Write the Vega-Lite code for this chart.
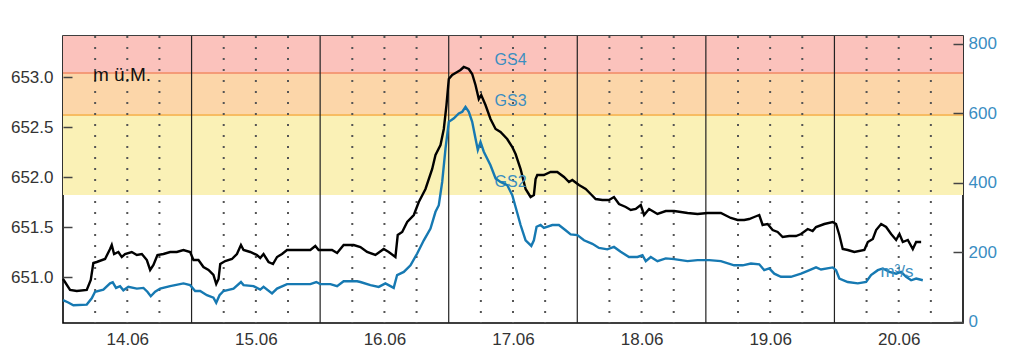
{
  "$schema": "https://vega.github.io/schema/vega-lite/v6.json",
  "width": 900,
  "height": 287,
  "autosize": "none",
  "padding": {"left": 63, "top": 36, "right": 61, "bottom": 35},
  "background": "white",
  "config": {
    "view": {"stroke": "#000", "strokeWidth": 1.6},
    "font": "Liberation Sans"
  },
  "datasets": {
    "bands": [
      {"band": "GS4", "lo": 653.04, "hi": 653.41},
      {"band": "GS3", "lo": 652.62, "hi": 653.04},
      {"band": "GS2", "lo": 651.82, "hi": 652.62}
    ],
    "gridLines": [
      {"t": "2021-06-14T06:00", "kind": "quarter"}, {"t": "2021-06-14T12:00", "kind": "quarter"}, {"t": "2021-06-14T18:00", "kind": "quarter"},
      {"t": "2021-06-15T00:00", "kind": "day"}, {"t": "2021-06-15T06:00", "kind": "quarter"}, {"t": "2021-06-15T12:00", "kind": "quarter"}, {"t": "2021-06-15T18:00", "kind": "quarter"},
      {"t": "2021-06-16T00:00", "kind": "day"}, {"t": "2021-06-16T06:00", "kind": "quarter"}, {"t": "2021-06-16T12:00", "kind": "quarter"}, {"t": "2021-06-16T18:00", "kind": "quarter"},
      {"t": "2021-06-17T00:00", "kind": "day"}, {"t": "2021-06-17T06:00", "kind": "quarter"}, {"t": "2021-06-17T12:00", "kind": "quarter"}, {"t": "2021-06-17T18:00", "kind": "quarter"},
      {"t": "2021-06-18T00:00", "kind": "day"}, {"t": "2021-06-18T06:00", "kind": "quarter"}, {"t": "2021-06-18T12:00", "kind": "quarter"}, {"t": "2021-06-18T18:00", "kind": "quarter"},
      {"t": "2021-06-19T00:00", "kind": "day"}, {"t": "2021-06-19T06:00", "kind": "quarter"}, {"t": "2021-06-19T12:00", "kind": "quarter"}, {"t": "2021-06-19T18:00", "kind": "quarter"},
      {"t": "2021-06-20T00:00", "kind": "day"}, {"t": "2021-06-20T06:00", "kind": "quarter"}, {"t": "2021-06-20T12:00", "kind": "quarter"}, {"t": "2021-06-20T18:00", "kind": "quarter"}
    ],
    "gsLabels": [
      {"label": "GS4", "t": "2021-06-17T11:33", "level": 653.17},
      {"label": "GS3", "t": "2021-06-17T11:33", "level": 652.76},
      {"label": "GS2", "t": "2021-06-17T11:33", "level": 651.95}
    ],
    "levelUnit": [{"label": "m ü.M.", "t": "2021-06-14T05:36", "level": 653.02}],
    "flowUnit": [{"label": "m³/s", "t": "2021-06-20T11:40", "discharge": 142}],
    "level": [
      {"t": "2021-06-14T00:00", "level": 650.98},
      {"t": "2021-06-14T00:22", "level": 650.95},
      {"t": "2021-06-14T01:19", "level": 650.87},
      {"t": "2021-06-14T02:34", "level": 650.86},
      {"t": "2021-06-14T04:26", "level": 650.87},
      {"t": "2021-06-14T05:11", "level": 650.97},
      {"t": "2021-06-14T05:40", "level": 651.14},
      {"t": "2021-06-14T06:18", "level": 651.15},
      {"t": "2021-06-14T07:51", "level": 651.18},
      {"t": "2021-06-14T08:47", "level": 651.28},
      {"t": "2021-06-14T09:06", "level": 651.32},
      {"t": "2021-06-14T09:32", "level": 651.23},
      {"t": "2021-06-14T10:20", "level": 651.25},
      {"t": "2021-06-14T10:58", "level": 651.20},
      {"t": "2021-06-14T11:35", "level": 651.23},
      {"t": "2021-06-14T12:50", "level": 651.25},
      {"t": "2021-06-14T13:47", "level": 651.22},
      {"t": "2021-06-14T14:43", "level": 651.23},
      {"t": "2021-06-14T15:39", "level": 651.17},
      {"t": "2021-06-14T16:16", "level": 651.07},
      {"t": "2021-06-14T16:53", "level": 651.12},
      {"t": "2021-06-14T17:38", "level": 651.22},
      {"t": "2021-06-14T18:45", "level": 651.23},
      {"t": "2021-06-14T20:00", "level": 651.25},
      {"t": "2021-06-14T21:15", "level": 651.25},
      {"t": "2021-06-14T22:29", "level": 651.27},
      {"t": "2021-06-14T23:44", "level": 651.25},
      {"t": "2021-06-15T00:21", "level": 651.17},
      {"t": "2021-06-15T01:17", "level": 651.17},
      {"t": "2021-06-15T02:13", "level": 651.10},
      {"t": "2021-06-15T03:10", "level": 651.07},
      {"t": "2021-06-15T04:05", "level": 651.02},
      {"t": "2021-06-15T04:36", "level": 650.93},
      {"t": "2021-06-15T05:02", "level": 650.98},
      {"t": "2021-06-15T05:21", "level": 651.13},
      {"t": "2021-06-15T06:17", "level": 651.16},
      {"t": "2021-06-15T07:32", "level": 651.18},
      {"t": "2021-06-15T08:28", "level": 651.23},
      {"t": "2021-06-15T09:13", "level": 651.32},
      {"t": "2021-06-15T09:42", "level": 651.27},
      {"t": "2021-06-15T10:57", "level": 651.25},
      {"t": "2021-06-15T12:12", "level": 651.22},
      {"t": "2021-06-15T12:49", "level": 651.19},
      {"t": "2021-06-15T13:26", "level": 651.23},
      {"t": "2021-06-15T14:22", "level": 651.15},
      {"t": "2021-06-15T15:12", "level": 651.13},
      {"t": "2021-06-15T15:57", "level": 651.20},
      {"t": "2021-06-15T16:53", "level": 651.23},
      {"t": "2021-06-15T17:49", "level": 651.27},
      {"t": "2021-06-15T19:41", "level": 651.27},
      {"t": "2021-06-15T22:10", "level": 651.27},
      {"t": "2021-06-15T23:06", "level": 651.31},
      {"t": "2021-06-15T23:43", "level": 651.27},
      {"t": "2021-06-16T00:58", "level": 651.27},
      {"t": "2021-06-16T02:13", "level": 651.27},
      {"t": "2021-06-16T03:10", "level": 651.24},
      {"t": "2021-06-16T04:23", "level": 651.32},
      {"t": "2021-06-16T06:16", "level": 651.32},
      {"t": "2021-06-16T07:31", "level": 651.30},
      {"t": "2021-06-16T08:46", "level": 651.25},
      {"t": "2021-06-16T10:19", "level": 651.22},
      {"t": "2021-06-16T11:52", "level": 651.28},
      {"t": "2021-06-16T12:48", "level": 651.25},
      {"t": "2021-06-16T14:03", "level": 651.20},
      {"t": "2021-06-16T14:29", "level": 651.42},
      {"t": "2021-06-16T15:19", "level": 651.45},
      {"t": "2021-06-16T16:15", "level": 651.55},
      {"t": "2021-06-16T17:29", "level": 651.62},
      {"t": "2021-06-16T18:25", "level": 651.75},
      {"t": "2021-06-16T19:40", "level": 651.88},
      {"t": "2021-06-16T20:55", "level": 652.08},
      {"t": "2021-06-16T21:32", "level": 652.22},
      {"t": "2021-06-16T22:28", "level": 652.32},
      {"t": "2021-06-16T23:05", "level": 652.48},
      {"t": "2021-06-16T23:35", "level": 652.72},
      {"t": "2021-06-17T00:01", "level": 652.98},
      {"t": "2021-06-17T00:39", "level": 653.02},
      {"t": "2021-06-17T01:35", "level": 653.05},
      {"t": "2021-06-17T02:12", "level": 653.07},
      {"t": "2021-06-17T02:49", "level": 653.10},
      {"t": "2021-06-17T03:45", "level": 653.08},
      {"t": "2021-06-17T04:23", "level": 653.03},
      {"t": "2021-06-17T05:00", "level": 652.92},
      {"t": "2021-06-17T05:37", "level": 652.78},
      {"t": "2021-06-17T06:04", "level": 652.82},
      {"t": "2021-06-17T06:52", "level": 652.72},
      {"t": "2021-06-17T07:48", "level": 652.58},
      {"t": "2021-06-17T08:45", "level": 652.48},
      {"t": "2021-06-17T09:40", "level": 652.45},
      {"t": "2021-06-17T10:55", "level": 652.38},
      {"t": "2021-06-17T11:52", "level": 652.30},
      {"t": "2021-06-17T12:29", "level": 652.23},
      {"t": "2021-06-17T13:25", "level": 652.08},
      {"t": "2021-06-17T14:21", "level": 651.88},
      {"t": "2021-06-17T15:17", "level": 651.80},
      {"t": "2021-06-17T15:54", "level": 651.82},
      {"t": "2021-06-17T16:13", "level": 651.98},
      {"t": "2021-06-17T16:32", "level": 652.02},
      {"t": "2021-06-17T17:46", "level": 652.02},
      {"t": "2021-06-17T19:01", "level": 652.05},
      {"t": "2021-06-17T20:16", "level": 652.05},
      {"t": "2021-06-17T21:31", "level": 652.00},
      {"t": "2021-06-17T22:27", "level": 651.95},
      {"t": "2021-06-17T23:04", "level": 651.97},
      {"t": "2021-06-18T00:19", "level": 651.92},
      {"t": "2021-06-18T01:34", "level": 651.88},
      {"t": "2021-06-18T02:30", "level": 651.83},
      {"t": "2021-06-18T03:26", "level": 651.78},
      {"t": "2021-06-18T04:41", "level": 651.77},
      {"t": "2021-06-18T05:55", "level": 651.77},
      {"t": "2021-06-18T06:51", "level": 651.80},
      {"t": "2021-06-18T07:47", "level": 651.73},
      {"t": "2021-06-18T09:03", "level": 651.70},
      {"t": "2021-06-18T09:59", "level": 651.67},
      {"t": "2021-06-18T10:55", "level": 651.68},
      {"t": "2021-06-18T11:51", "level": 651.72},
      {"t": "2021-06-18T12:28", "level": 651.62},
      {"t": "2021-06-18T13:24", "level": 651.68},
      {"t": "2021-06-18T14:58", "level": 651.63},
      {"t": "2021-06-18T16:31", "level": 651.66},
      {"t": "2021-06-18T18:05", "level": 651.66},
      {"t": "2021-06-18T20:35", "level": 651.64},
      {"t": "2021-06-18T22:27", "level": 651.63},
      {"t": "2021-06-19T00:19", "level": 651.64},
      {"t": "2021-06-19T02:48", "level": 651.64},
      {"t": "2021-06-19T04:40", "level": 651.59},
      {"t": "2021-06-19T05:55", "level": 651.57},
      {"t": "2021-06-19T07:10", "level": 651.57},
      {"t": "2021-06-19T08:05", "level": 651.58},
      {"t": "2021-06-19T09:02", "level": 651.60},
      {"t": "2021-06-19T09:58", "level": 651.62},
      {"t": "2021-06-19T10:36", "level": 651.52},
      {"t": "2021-06-19T11:32", "level": 651.53},
      {"t": "2021-06-19T12:28", "level": 651.47},
      {"t": "2021-06-19T13:24", "level": 651.45},
      {"t": "2021-06-19T14:20", "level": 651.40},
      {"t": "2021-06-19T15:34", "level": 651.41},
      {"t": "2021-06-19T16:49", "level": 651.41},
      {"t": "2021-06-19T17:46", "level": 651.43},
      {"t": "2021-06-19T19:01", "level": 651.48},
      {"t": "2021-06-19T19:56", "level": 651.46},
      {"t": "2021-06-19T20:34", "level": 651.50},
      {"t": "2021-06-19T22:07", "level": 651.53},
      {"t": "2021-06-19T23:41", "level": 651.55},
      {"t": "2021-06-20T00:18", "level": 651.53},
      {"t": "2021-06-20T00:55", "level": 651.42},
      {"t": "2021-06-20T01:33", "level": 651.28},
      {"t": "2021-06-20T02:29", "level": 651.27},
      {"t": "2021-06-20T03:43", "level": 651.25},
      {"t": "2021-06-20T05:35", "level": 651.27},
      {"t": "2021-06-20T06:14", "level": 651.35},
      {"t": "2021-06-20T07:10", "level": 651.38},
      {"t": "2021-06-20T07:47", "level": 651.47},
      {"t": "2021-06-20T08:43", "level": 651.53},
      {"t": "2021-06-20T09:39", "level": 651.50},
      {"t": "2021-06-20T10:35", "level": 651.43},
      {"t": "2021-06-20T11:31", "level": 651.37},
      {"t": "2021-06-20T12:08", "level": 651.43},
      {"t": "2021-06-20T12:46", "level": 651.35},
      {"t": "2021-06-20T13:42", "level": 651.37},
      {"t": "2021-06-20T14:38", "level": 651.28},
      {"t": "2021-06-20T15:15", "level": 651.35},
      {"t": "2021-06-20T16:11", "level": 651.35}
    ],
    "discharge": [
      {"t": "2021-06-14T00:00", "discharge": 62},
      {"t": "2021-06-14T00:59", "discharge": 55},
      {"t": "2021-06-14T01:56", "discharge": 47},
      {"t": "2021-06-14T04:26", "discharge": 49},
      {"t": "2021-06-14T05:22", "discharge": 67},
      {"t": "2021-06-14T05:59", "discharge": 86},
      {"t": "2021-06-14T07:32", "discharge": 92},
      {"t": "2021-06-14T08:47", "discharge": 110},
      {"t": "2021-06-14T09:17", "discharge": 113},
      {"t": "2021-06-14T09:54", "discharge": 97},
      {"t": "2021-06-14T10:39", "discharge": 102},
      {"t": "2021-06-14T11:16", "discharge": 90},
      {"t": "2021-06-14T12:12", "discharge": 100},
      {"t": "2021-06-14T13:47", "discharge": 95},
      {"t": "2021-06-14T15:01", "discharge": 97},
      {"t": "2021-06-14T15:45", "discharge": 86},
      {"t": "2021-06-14T16:23", "discharge": 73},
      {"t": "2021-06-14T17:12", "discharge": 86},
      {"t": "2021-06-14T18:08", "discharge": 95},
      {"t": "2021-06-14T20:00", "discharge": 102},
      {"t": "2021-06-14T22:29", "discharge": 110},
      {"t": "2021-06-14T23:44", "discharge": 105},
      {"t": "2021-06-15T00:40", "discharge": 88},
      {"t": "2021-06-15T01:36", "discharge": 88},
      {"t": "2021-06-15T02:52", "discharge": 76},
      {"t": "2021-06-15T04:05", "discharge": 69},
      {"t": "2021-06-15T04:36", "discharge": 54},
      {"t": "2021-06-15T05:13", "discharge": 76},
      {"t": "2021-06-15T05:58", "discharge": 88},
      {"t": "2021-06-15T07:50", "discharge": 95},
      {"t": "2021-06-15T09:13", "discharge": 114},
      {"t": "2021-06-15T09:42", "discharge": 105},
      {"t": "2021-06-15T11:34", "discharge": 102},
      {"t": "2021-06-15T12:49", "discharge": 92},
      {"t": "2021-06-15T13:26", "discharge": 100},
      {"t": "2021-06-15T15:01", "discharge": 81},
      {"t": "2021-06-15T15:57", "discharge": 95},
      {"t": "2021-06-15T17:49", "discharge": 108},
      {"t": "2021-06-15T22:10", "discharge": 108},
      {"t": "2021-06-15T23:17", "discharge": 114},
      {"t": "2021-06-16T00:02", "discharge": 108},
      {"t": "2021-06-16T01:55", "discharge": 108},
      {"t": "2021-06-16T03:10", "discharge": 102},
      {"t": "2021-06-16T04:23", "discharge": 116},
      {"t": "2021-06-16T06:54", "discharge": 116},
      {"t": "2021-06-16T07:31", "discharge": 114},
      {"t": "2021-06-16T09:23", "discharge": 105},
      {"t": "2021-06-16T10:56", "discharge": 100},
      {"t": "2021-06-16T12:11", "discharge": 110},
      {"t": "2021-06-16T13:44", "discharge": 97},
      {"t": "2021-06-16T14:22", "discharge": 134},
      {"t": "2021-06-16T15:37", "discharge": 143},
      {"t": "2021-06-16T16:52", "discharge": 162},
      {"t": "2021-06-16T18:07", "discharge": 196},
      {"t": "2021-06-16T19:21", "discharge": 234},
      {"t": "2021-06-16T20:36", "discharge": 268},
      {"t": "2021-06-16T21:32", "discharge": 316},
      {"t": "2021-06-16T22:09", "discharge": 335},
      {"t": "2021-06-16T22:47", "discharge": 402},
      {"t": "2021-06-16T23:24", "discharge": 498},
      {"t": "2021-06-17T00:01", "discharge": 575},
      {"t": "2021-06-17T00:58", "discharge": 585},
      {"t": "2021-06-17T01:53", "discharge": 599},
      {"t": "2021-06-17T02:32", "discharge": 604},
      {"t": "2021-06-17T03:08", "discharge": 618},
      {"t": "2021-06-17T03:45", "discharge": 604},
      {"t": "2021-06-17T04:23", "discharge": 575},
      {"t": "2021-06-17T05:00", "discharge": 527},
      {"t": "2021-06-17T05:26", "discharge": 494},
      {"t": "2021-06-17T05:56", "discharge": 517},
      {"t": "2021-06-17T06:33", "discharge": 489},
      {"t": "2021-06-17T07:48", "discharge": 450},
      {"t": "2021-06-17T08:45", "discharge": 412},
      {"t": "2021-06-17T09:40", "discharge": 402},
      {"t": "2021-06-17T10:55", "discharge": 393},
      {"t": "2021-06-17T11:52", "discharge": 364},
      {"t": "2021-06-17T12:29", "discharge": 330},
      {"t": "2021-06-17T13:25", "discharge": 278},
      {"t": "2021-06-17T14:21", "discharge": 234},
      {"t": "2021-06-17T15:25", "discharge": 218},
      {"t": "2021-06-17T15:54", "discharge": 234},
      {"t": "2021-06-17T16:24", "discharge": 273},
      {"t": "2021-06-17T17:09", "discharge": 278},
      {"t": "2021-06-17T17:46", "discharge": 270},
      {"t": "2021-06-17T19:21", "discharge": 278},
      {"t": "2021-06-17T20:34", "discharge": 278},
      {"t": "2021-06-17T21:49", "discharge": 263},
      {"t": "2021-06-17T22:46", "discharge": 251},
      {"t": "2021-06-18T00:01", "discharge": 249},
      {"t": "2021-06-18T01:15", "discharge": 234},
      {"t": "2021-06-18T02:49", "discharge": 224},
      {"t": "2021-06-18T04:03", "discharge": 212},
      {"t": "2021-06-18T05:37", "discharge": 208},
      {"t": "2021-06-18T06:51", "discharge": 215},
      {"t": "2021-06-18T08:06", "discharge": 201},
      {"t": "2021-06-18T09:39", "discharge": 186},
      {"t": "2021-06-18T11:14", "discharge": 186},
      {"t": "2021-06-18T12:10", "discharge": 191},
      {"t": "2021-06-18T12:47", "discharge": 174},
      {"t": "2021-06-18T13:43", "discharge": 186},
      {"t": "2021-06-18T14:58", "discharge": 174},
      {"t": "2021-06-18T16:31", "discharge": 182},
      {"t": "2021-06-18T18:05", "discharge": 180},
      {"t": "2021-06-18T20:35", "discharge": 174},
      {"t": "2021-06-18T22:27", "discharge": 177},
      {"t": "2021-06-19T00:37", "discharge": 177},
      {"t": "2021-06-19T02:48", "discharge": 174},
      {"t": "2021-06-19T05:17", "discharge": 162},
      {"t": "2021-06-19T06:52", "discharge": 162},
      {"t": "2021-06-19T08:25", "discharge": 167},
      {"t": "2021-06-19T09:58", "discharge": 165},
      {"t": "2021-06-19T10:54", "discharge": 148},
      {"t": "2021-06-19T11:50", "discharge": 153},
      {"t": "2021-06-19T12:46", "discharge": 138},
      {"t": "2021-06-19T14:01", "discharge": 129},
      {"t": "2021-06-19T15:53", "discharge": 129},
      {"t": "2021-06-19T17:46", "discharge": 138},
      {"t": "2021-06-19T19:01", "discharge": 146},
      {"t": "2021-06-19T20:34", "discharge": 156},
      {"t": "2021-06-19T21:30", "discharge": 150},
      {"t": "2021-06-19T23:41", "discharge": 156},
      {"t": "2021-06-20T00:18", "discharge": 148},
      {"t": "2021-06-20T00:55", "discharge": 124},
      {"t": "2021-06-20T02:29", "discharge": 114},
      {"t": "2021-06-20T04:22", "discharge": 110},
      {"t": "2021-06-20T05:55", "discharge": 114},
      {"t": "2021-06-20T06:50", "discharge": 134},
      {"t": "2021-06-20T08:06", "discharge": 148},
      {"t": "2021-06-20T09:02", "discharge": 153},
      {"t": "2021-06-20T10:16", "discharge": 143},
      {"t": "2021-06-20T11:31", "discharge": 138},
      {"t": "2021-06-20T12:27", "discharge": 143},
      {"t": "2021-06-20T13:23", "discharge": 129},
      {"t": "2021-06-20T14:19", "discharge": 119},
      {"t": "2021-06-20T15:15", "discharge": 124},
      {"t": "2021-06-20T16:30", "discharge": 119}
    ]
  },
  "layer": [
    {
      "layer": [
        {
          "data": {"name": "bands"},
          "mark": {"type": "rect"},
          "encoding": {
            "x": {"value": 0},
            "x2": {"value": "width"},
            "y": {"field": "lo", "type": "quantitative", "scale": {"domain": [650.54, 653.41], "nice": false, "zero": false}},
            "y2": {"field": "hi"},
            "fill": {"field": "band", "type": "nominal", "scale": {"domain": ["GS2", "GS3", "GS4"], "range": ["#FAF1B6", "#FCD6A9", "#FBC2BC"]}, "legend": null}
          }
        },
        {
          "data": {"name": "bands"},
          "transform": [{"filter": "datum.band !== 'GS2'"}],
          "mark": {"type": "rule", "strokeWidth": 2},
          "encoding": {
            "y": {"field": "lo", "type": "quantitative"},
            "stroke": {"field": "band", "type": "nominal", "scale": {"domain": ["GS3", "GS4"], "range": ["#F7BC62", "#F49A78"]}, "legend": null}
          }
        },
        {
          "data": {"name": "gridLines"},
          "transform": [{"filter": "datum.kind === 'quarter'"}],
          "mark": {"type": "rule", "color": "#555555", "strokeWidth": 2, "strokeDash": [2, 9]},
          "encoding": {
            "x": {"field": "t", "type": "temporal"}
          }
        },
        {
          "data": {"name": "gridLines"},
          "transform": [{"filter": "datum.kind === 'day'"}],
          "mark": {"type": "rule", "color": "#222222", "strokeWidth": 1.2},
          "encoding": {
            "x": {"field": "t", "type": "temporal"}
          }
        },
        {
          "data": {"name": "level"},
          "mark": {"type": "line", "color": "#000000", "strokeWidth": 2.4, "interpolate": "linear"},
          "encoding": {
            "x": {
              "field": "t", "type": "temporal",
              "scale": {"domain": [{"year": 2021, "month": 6, "date": 14, "hours": 0}, {"year": 2021, "month": 6, "date": 21, "hours": 0}], "nice": false},
              "axis": {
                "title": null,
                "orient": "bottom",
                "domain": false,
                "ticks": false,
                "grid": false,
                "values": [
                  {"year": 2021, "month": 6, "date": 14, "hours": 12},
                  {"year": 2021, "month": 6, "date": 15, "hours": 12},
                  {"year": 2021, "month": 6, "date": 16, "hours": 12},
                  {"year": 2021, "month": 6, "date": 17, "hours": 12},
                  {"year": 2021, "month": 6, "date": 18, "hours": 12},
                  {"year": 2021, "month": 6, "date": 19, "hours": 12},
                  {"year": 2021, "month": 6, "date": 20, "hours": 12}
                ],
                "format": "%d.%m",
                "labelFlush": false,
                "labelPadding": 8,
                "labelFontSize": 17,
                "labelColor": "#333333"
              }
            },
            "y": {
              "field": "level", "type": "quantitative",
              "axis": {
                "orient": "left",
                "title": null,
                "zindex": 1,
                "offset": -9,
                "values": [651, 651.5, 652, 652.5, 653],
                "format": ".1f",
                "domain": false,
                "grid": false,
                "tickSize": 9,
                "tickWidth": 1.5,
                "tickColor": "#444444",
                "labelPadding": 10,
                "labelFontSize": 17,
                "labelColor": "#333333"
              }
            }
          }
        },
        {
          "data": {"name": "gsLabels"},
          "mark": {"type": "text", "fontSize": 16, "color": "#3C8EC0", "align": "center", "baseline": "middle"},
          "encoding": {
            "x": {"field": "t", "type": "temporal"},
            "y": {"field": "level", "type": "quantitative"},
            "text": {"field": "label"}
          }
        },
        {
          "data": {"name": "levelUnit"},
          "mark": {"type": "text", "fontSize": 19, "color": "#111111", "align": "left", "baseline": "middle"},
          "encoding": {
            "x": {"field": "t", "type": "temporal"},
            "y": {"field": "level", "type": "quantitative"},
            "text": {"field": "label"}
          }
        }
      ]
    },
    {
      "layer": [
        {
          "data": {"name": "discharge"},
          "mark": {"type": "line", "color": "#1679B2", "strokeWidth": 2.4},
          "encoding": {
            "x": {"field": "t", "type": "temporal"},
            "y": {
              "field": "discharge", "type": "quantitative",
              "scale": {"domain": [-4, 822], "nice": false, "zero": false},
              "axis": {
                "orient": "right",
                "title": null,
                "zindex": 1,
                "offset": -10,
                "values": [0, 100, 200, 300, 400, 500, 600, 700, 800],
                "domain": false,
                "grid": false,
                "tickSize": 10,
                "tickWidth": 1.5,
                "tickColor": "#444444",
                "labelPadding": 5,
                "labelFontSize": 17,
                "labelColor": "#3A8DC2"
              }
            }
          }
        },
        {
          "data": {"name": "flowUnit"},
          "mark": {"type": "text", "fontSize": 17, "color": "#3C8EC0", "align": "center", "baseline": "middle"},
          "encoding": {
            "x": {"field": "t", "type": "temporal"},
            "y": {"field": "discharge", "type": "quantitative"},
            "text": {"field": "label"}
          }
        }
      ]
    }
  ],
  "resolve": {"scale": {"y": "independent"}, "axis": {"y": "independent"}}
}
